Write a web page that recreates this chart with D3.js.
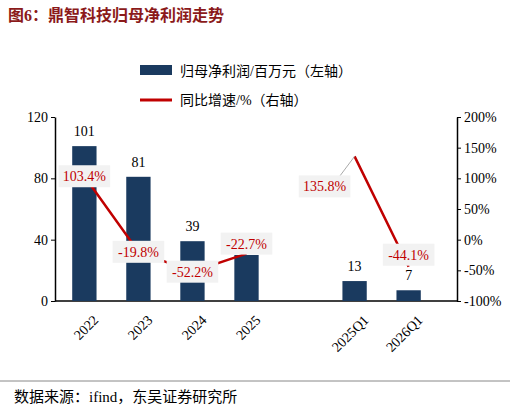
<!DOCTYPE html><html><head><meta charset="utf-8"><script src="https://cdn.jsdelivr.net/npm/d3@7"></script>
<style>body{margin:0;background:#fff}text{font-family:"Liberation Serif","Noto Sans CJK SC",serif}</style></head><body>
<svg id="c" width="510" height="413"></svg>
<script>
const categories=["2022","2023","2024","2025","","2025Q1","2026Q1"];
const profit=[101,81,39,30,null,13,7];
const profitLabels=["101","81","39","","","13","7"];
const growth=[103.4,-19.8,-52.2,-22.7,null,135.8,-44.1];
const leftTicks=[0,40,80,120];
const rightTicks=[-100,-50,0,50,100,150,200];
const svg=d3.select("#c");
const red="#c00000",navy="#1a3a5f";
svg.append("text").attr("x",8).attr("y",21).text("图6：鼎智科技归母净利润走势").attr("fill","#8b1a1a").attr("font-weight","bold").attr("font-size",16);
const x=d3.scaleBand().domain(categories).range([56,437]).paddingInner(0.55).paddingOuter(0.3);
const yL=d3.scaleLinear().domain([0,120]).range([301,117]);
const yR=d3.scaleLinear().domain([-100,200]).range([301,117]);
const gL=svg.append("g").attr("transform","translate(55,0)").call(d3.axisLeft(yL).tickValues(leftTicks).tickSize(4).tickSizeOuter(0));
const gR=svg.append("g").attr("transform","translate(457,0)").call(d3.axisRight(yR).tickValues(rightTicks).tickSize(4).tickSizeOuter(0).tickFormat(d=>d+"%"));
[gL,gR].forEach(g=>{g.selectAll("text").attr("font-size",14).attr("fill","#000").attr("font-family","Liberation Serif");g.select(".domain").attr("stroke-width",1.5);});
svg.append("line").attr("x1",55).attr("x2",457).attr("y1",301).attr("y2",301).attr("stroke","#000").attr("stroke-width",1.5);
categories.forEach((c,i)=>{if(profit[i]==null)return;
 svg.append("rect").attr("x",x(c)).attr("width",x.bandwidth()).attr("y",yL(profit[i])).attr("height",301-yL(profit[i])).attr("fill",navy);
 svg.append("text").attr("x",x(c)+x.bandwidth()/2).attr("y",yL(profit[i])-10).attr("text-anchor","middle").attr("font-size",14).text(profitLabels[i]);
 svg.append("text").attr("transform",`translate(${x(c)+x.bandwidth()/2+8},${314}) rotate(-45)`).attr("text-anchor","end").attr("dy","0.7em").attr("font-size",14).text(c);
});
const cx=c=>x(c)+x.bandwidth()/2;
const pts=categories.map((c,i)=>growth[i]==null?null:[cx(c),yR(growth[i])]);
const line=d3.line().defined(d=>d!=null);
svg.append("path").attr("d",line(pts)).attr("fill","none").attr("stroke",red).attr("stroke-width",2.5);
const offs=[[0,0],[0,0],[0,0],[0,-10],null,[-30,30],[0,-12]];
categories.forEach((c,i)=>{if(growth[i]==null)return;
 const lx=pts[i][0]+offs[i][0],ly=pts[i][1]+offs[i][1];
 if(i==5)svg.append("line").attr("x1",lx+15).attr("y1",ly-10).attr("x2",pts[i][0]).attr("y2",pts[i][1]).attr("stroke","#aaa");
 const t=(growth[i].toFixed(1))+"%";
 const w=t.length*7.6+6;
 svg.append("rect").attr("x",lx-w/2).attr("y",ly-11).attr("width",w).attr("height",22).attr("fill","#f2f2f2");
 svg.append("text").attr("x",lx).attr("y",ly+5).attr("text-anchor","middle").attr("font-size",14).attr("fill",red).text(t);
});
svg.append("rect").attr("x",140).attr("y",65).attr("width",32).attr("height",10).attr("fill",navy);
svg.append("text").attr("x",180).attr("y",76).attr("font-size",14).text("归母净利润/百万元（左轴）");
svg.append("line").attr("x1",140).attr("x2",172).attr("y1",100).attr("y2",100).attr("stroke",red).attr("stroke-width",3);
svg.append("text").attr("x",180).attr("y",105).attr("font-size",14).text("同比增速/%（右轴）");
svg.append("line").attr("x1",0).attr("x2",510).attr("y1",381).attr("y2",381).attr("stroke","#888");
svg.append("text").attr("x",14).attr("y",402).attr("font-size",15).text("数据来源：ifind，东吴证券研究所");
</script></body></html>
